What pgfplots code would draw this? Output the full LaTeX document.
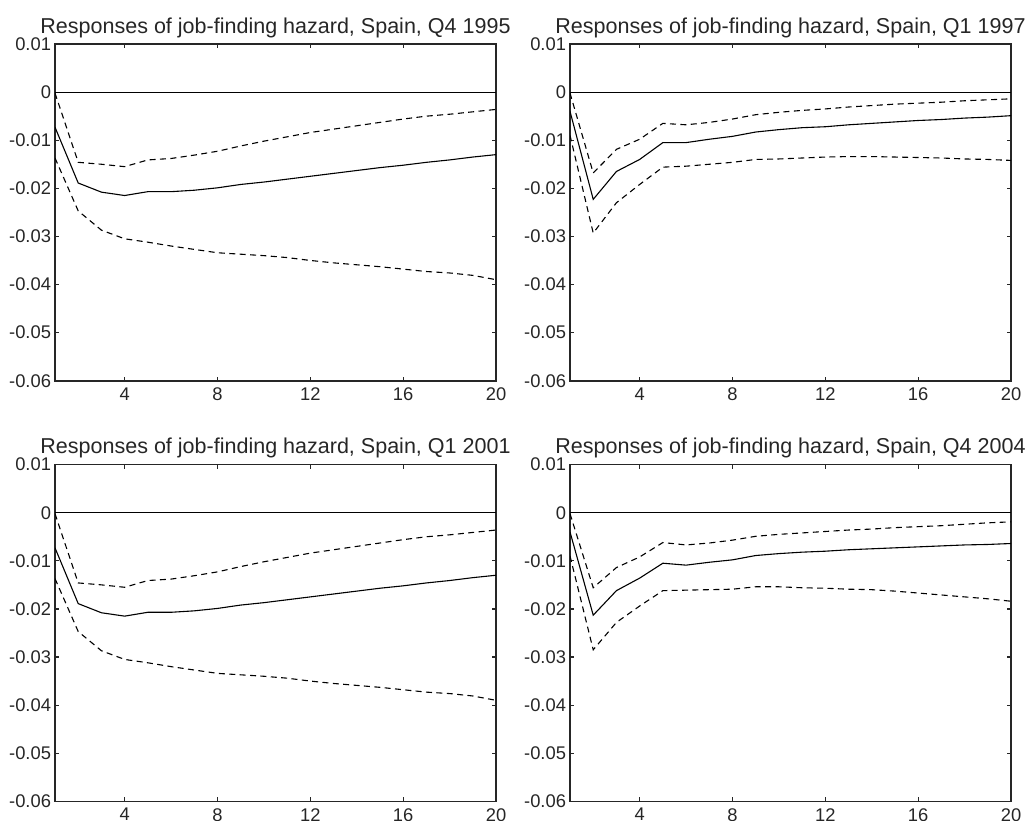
\documentclass[border=0pt]{standalone}
\usepackage{pgfplots}
\pgfplotsset{compat=1.18}
\usepackage{pgfplotstable}
\usepackage{fontspec}
\setmainfont{Liberation Sans}

\pgfplotstableread{
x s u l
1 -0.0073 -0.0002 -0.0137
2 -0.0189 -0.0146 -0.0247
3 -0.0208 -0.0150 -0.0287
4 -0.0215 -0.0155 -0.0305
5 -0.0207 -0.0141 -0.0312
6 -0.0207 -0.0138 -0.0320
7 -0.0204 -0.0131 -0.0327
8 -0.0199 -0.0123 -0.0334
9 -0.0192 -0.0112 -0.0337
10 -0.0187 -0.0102 -0.0340
11 -0.0181 -0.0093 -0.0344
12 -0.0175 -0.0084 -0.0350
13 -0.0169 -0.0077 -0.0355
14 -0.0163 -0.0070 -0.0359
15 -0.0157 -0.0063 -0.0363
16 -0.0152 -0.0056 -0.0368
17 -0.0146 -0.0050 -0.0373
18 -0.0141 -0.0046 -0.0376
19 -0.0135 -0.0041 -0.0381
20 -0.0130 -0.0036 -0.0390
}\tabA

\pgfplotstableread{
x s u l
1 -0.0040 -0.0002 -0.0090
2 -0.0223 -0.0168 -0.0293
3 -0.0165 -0.0119 -0.0230
4 -0.0140 -0.0098 -0.0192
5 -0.0105 -0.0065 -0.0156
6 -0.0105 -0.0068 -0.0154
7 -0.0098 -0.0063 -0.0150
8 -0.0092 -0.0056 -0.0146
9 -0.0083 -0.0047 -0.0140
10 -0.0078 -0.0042 -0.0139
11 -0.0074 -0.0038 -0.0137
12 -0.0072 -0.0035 -0.0135
13 -0.0068 -0.0031 -0.0134
14 -0.0065 -0.0028 -0.0134
15 -0.0062 -0.0025 -0.0135
16 -0.0059 -0.0023 -0.0136
17 -0.0057 -0.0021 -0.0137
18 -0.0054 -0.0018 -0.0139
19 -0.0052 -0.0016 -0.0140
20 -0.0049 -0.0014 -0.0142
}\tabB

\pgfplotstableread{
x s u l
1 -0.0040 -0.0002 -0.0090
2 -0.0213 -0.0156 -0.0285
3 -0.0162 -0.0114 -0.0228
4 -0.0136 -0.0092 -0.0194
5 -0.0105 -0.0062 -0.0162
6 -0.0109 -0.0067 -0.0161
7 -0.0103 -0.0063 -0.0160
8 -0.0098 -0.0057 -0.0159
9 -0.0089 -0.0049 -0.0154
10 -0.0085 -0.0045 -0.0154
11 -0.0082 -0.0042 -0.0156
12 -0.0080 -0.0039 -0.0157
13 -0.0077 -0.0036 -0.0159
14 -0.0075 -0.0034 -0.0160
15 -0.0073 -0.0031 -0.0163
16 -0.0071 -0.0029 -0.0167
17 -0.0069 -0.0027 -0.0171
18 -0.0067 -0.0024 -0.0175
19 -0.0066 -0.0021 -0.0179
20 -0.0064 -0.0019 -0.0184
}\tabC

\pgfplotsset{
  irf/.style={
    scale only axis,
    width=220.5bp, height=168.35bp,
    anchor=south west,
    xmin=1, xmax=20, ymin=-0.06, ymax=0.01,
    scaled x ticks=false, scaled y ticks=false,
    xtick={4,8,12,16,20},
    xticklabels={4,8,12,16,20},
    ytick={-0.06,-0.05,-0.04,-0.03,-0.02,-0.01,0,0.01},
    yticklabels={-0.06,-0.05,-0.04,-0.03,-0.02,-0.01,0,0.01},
    tick align=inside,
    major tick length=2bp,
    axis line style={line width=0.8bp, black!85},
    every tick/.style={line width=0.6bp, black!85},
    tick label style={font=\fontsize{9.2}{11}\selectfont, text=black!85},
    yticklabel style={xshift=1.5bp},
    every axis title shift=0pt,
    title style={font=\fontsize{10.8}{12}\selectfont, text=black!85, at={(0.5,1)}, anchor=base, yshift=5.5bp},
    clip=true,
  },
  est/.style={black, line width=0.55bp, mark=none},
  band/.style={black, line width=0.55bp, mark=none, dash pattern=on 3bp off 2.2bp},
  zero/.style={black, line width=0.6bp, mark=none},
}

\begin{document}
\begin{tikzpicture}[x=1bp,y=1bp]
\path[use as bounding box] (0,0) rectangle (513,410);

\begin{axis}[irf, at={(27.5bp,219.65bp)}, title={Responses of job-finding hazard, Spain, Q4 1995}]
\addplot[zero] coordinates {(1,0) (20,0)};
\addplot[band] table[x=x,y=u] {\tabA};
\addplot[band] table[x=x,y=l] {\tabA};
\addplot[est] table[x=x,y=s] {\tabA};
\end{axis}

\begin{axis}[irf, at={(285bp,219.65bp)}, title={Responses of job-finding hazard, Spain, Q1 1997}]
\addplot[zero] coordinates {(1,0) (20,0)};
\addplot[band] table[x=x,y=u] {\tabB};
\addplot[band] table[x=x,y=l] {\tabB};
\addplot[est] table[x=x,y=s] {\tabB};
\end{axis}

\begin{axis}[irf, at={(27.5bp,9.35bp)}, title={Responses of job-finding hazard, Spain, Q1 2001}]
\addplot[zero] coordinates {(1,0) (20,0)};
\addplot[band] table[x=x,y=u] {\tabA};
\addplot[band] table[x=x,y=l] {\tabA};
\addplot[est] table[x=x,y=s] {\tabA};
\end{axis}

\begin{axis}[irf, at={(285bp,9.35bp)}, title={Responses of job-finding hazard, Spain, Q4 2004}]
\addplot[zero] coordinates {(1,0) (20,0)};
\addplot[band] table[x=x,y=u] {\tabC};
\addplot[band] table[x=x,y=l] {\tabC};
\addplot[est] table[x=x,y=s] {\tabC};
\end{axis}
\end{tikzpicture}
\end{document}
